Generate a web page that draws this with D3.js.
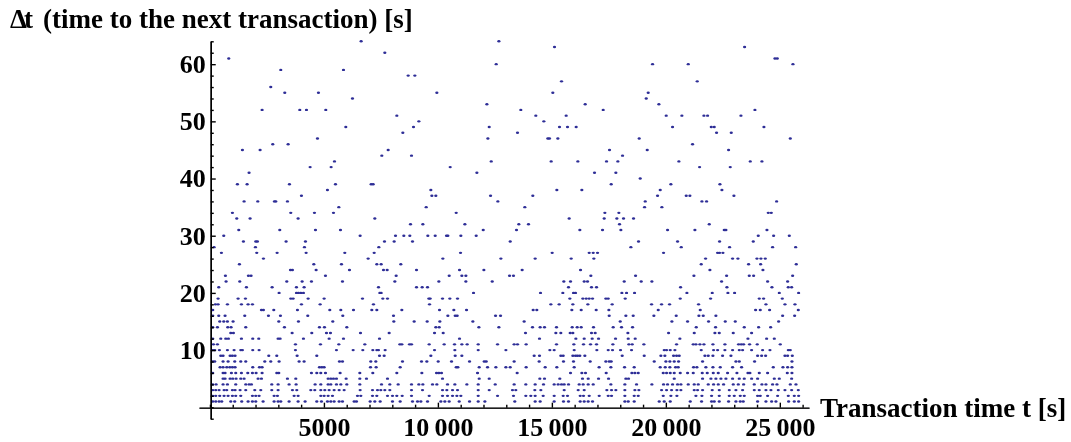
<!DOCTYPE html>
<html><head><meta charset="utf-8">
<script src="https://cdn.jsdelivr.net/npm/d3@7/dist/d3.min.js"></script>
<style>html,body{margin:0;padding:0;background:#fff}svg{display:block;filter:blur(0.35px)}text{font-family:"Liberation Serif",serif;font-weight:bold;fill:#000}</style>
</head><body><div id="c"></div>
<script>
const titleY = "\u0394t";
const titleRest = "(time to the next transaction) [s]";
const titleX = "Transaction time t [s]";
const xMajor = [5000,10000,15000,20000,25000];
const xMinor = [0,1000,2000,3000,4000,6000,7000,8000,9000,11000,12000,13000,14000,16000,17000,18000,19000,21000,22000,23000,24000,26000];
const yMajor = [10,20,30,40,50,60];
const yMinor = [-2,0,2,4,6,8,12,14,16,18,22,24,26,28,32,34,36,38,42,44,46,48,52,54,56,58,62,64];
// transaction times (s) by time-to-next value dt (s)
const timesAt = {};
timesAt[64]=[6598,12640];
timesAt[63]=[15080,23420];
timesAt[62]=[7637];
timesAt[61]=[790,24751,24853];
timesAt[60]=[12523,19382,20947,25541];
timesAt[59]=[3072,5823];
timesAt[58]=[8661,8954];
timesAt[57]=[15388,21342];
timesAt[56]=[2633];
timesAt[55]=[3248,4725,9919,15007,19191];
timesAt[54]=[6218,19104];
timesAt[53]=[12114,16426,19660];
timesAt[52]=[2253,3906,4199,5047,13603,17216,23873];
timesAt[51]=[8164,14261,15592,19981,20669,21635,21796,23259];
timesAt[50]=[9129,14612];
timesAt[49]=[5925,8895,12216,15300,15651,16031,20259,21957,22088,24268];
timesAt[48]=[8427,13457,22190,22834];
timesAt[47]=[4682,12158,14788,14861,15227,18796,25424];
timesAt[46]=[2721,3394,21137];
timesAt[45]=[1390,2165,7783,17494,19148,22717];
timesAt[44]=[7505,8807,18065];
timesAt[43]=[5428,12304,14934,16105,17363,17860,20537,23668,24180];
timesAt[42]=[4360,5281,10504,21445,22790];
timesAt[41]=[1682,11675,16836,17772];
timesAt[40]=[18840];
timesAt[39]=[1170,1595,3453,5472,7037,7125,17568,20186,22337];
timesAt[38]=[5120,9656,15183,16280,19718,22425];
timesAt[37]=[3979,9700,9875,12275,14129,19601,20859,21020,22951];
timesAt[36]=[1463,2063,2794,2853,3365,12596,19060,21547,21752,24824];
timesAt[35]=[5618,9451,13778,19031,19791];
timesAt[34]=[951,3511,4550,5384,10768,17290,17904,24458,24590];
timesAt[33]=[1141,1726,3833,7198,15724,17260,17816,18109,18548];
timesAt[32]=[8763,9305,11148,13515,13939,17933,21869];
timesAt[31]=[1229,3028,4594,5691,11953,13413,16192,17187,17992,20040,21240,22527,22600,24400];
timesAt[30]=[571,6554,8105,8471,8734,9524,9846,10343,10402,10972,11645,24019,24692,25380];
timesAt[29]=[1434,1975,2048,3306,4155,7622,8047,8851,13137,18767,20479,22322,23800];
timesAt[28]=[146,1960,4111,7374,18431,20640,22761,24648,25658];
timesAt[27]=[468,2019,2911,4184,5881,7169,10958,14978,16602,16778,16968,19864,22235,22322,22469];
timesAt[26]=[2312,6905,10183,12728,14232,15812,16807,21708,22893,23127,23961,24136,24327];
timesAt[25]=[1258,4521,5735,7286,7476,8339,21517,23595,24122,25687];
timesAt[24]=[3497,3584,4623,6086,7578,7739,9027,10914,11982,13661,16222,21898,24224];
timesAt[23]=[644,1653,1770,5033,8134,10460,11016,11192,13108,13281,16675,18636,21196,22630,23624,23815,25526];
timesAt[22]=[673,1273,3336,4009,4418,5779,8076,10007,11192,12348,15490,15783,16383,16529,18138,18884,19352,22410,24429,25307];
timesAt[21]=[351,1565,2692,3760,4096,7359,9027,9275,9510,15695,16704,16924,20611,22644,24619,25336,25483];
timesAt[20]=[2999,3760,3848,3950,4067,7418,7476,11528,14466,15446,15914,16002,18036,18241,18592,20889,22000,22688,22981,24941,25790];
timesAt[19]=[322,1200,1522,3511,3614,4272,4974,6657,7549,7754,9568,9627,10168,10490,10826,15753,16324,16470,16602,16748,17333,17436,18182,20596,21927,24063,24253,25073];
timesAt[18]=[205,322,732,1346,1639,1829,3979,4799,7139,9597,14920,15285,15885,16543,17611,19338,19777,20128,21400,24356,25190,25629];
timesAt[17]=[88,2224,2312,2765,3804,5223,5706,6262,7066,7286,8383,10036,10665,11221,14144,14305,15841,16251,16909,17465,19630,21474,23902,24107,24517,25775];
timesAt[16]=[88,351,629,1492,2531,3058,4257,5793,8017,10402,10724,10812,12494,12713,17480,18211,18533,19440,20420,21415,21605,22161,25087,25614];
timesAt[15]=[395,571,732,980,2985,3848,5355,8032,8924,9495,10051,11499,13749,17963,20230,20918,21839,22571,23010,24912];
timesAt[14]=[88,293,746,892,1536,3233,4769,4989,5969,9875,10021,11763,12640,14115,14451,14642,15168,15856,16075,16251,16792,17655,18021,18504,21298,22147,23405,24034,24561];
timesAt[13]=[878,995,3570,4433,5077,5252,6569,7827,9817,10197,13808,15139,15358,15768,15885,16704,16865,18299,20084,21211,22117,22308,22922,23727];
timesAt[12]=[88,439,658,775,1346,1843,2107,2955,3043,4067,5194,5823,7403,10914,14422,16017,16383,16734,17012,17758,18314,18621,20581,23566,24385,24722];
timesAt[11]=[117,293,3716,4813,5618,6759,8295,8383,8719,8807,9583,10241,10695,11016,11250,11733,12582,13310,13457,13837,15168,15929,16353,16660,16924,17641,18343,18489,19001,20435,21167,21284,21459,21635,22030,22556,23156,23273,23376,23639,23975,24985];
timesAt[10]=[88,176,380,732,1024,1317,1390,1843,2121,3716,5515,6247,6671,7110,7286,7359,7651,9817,10709,11733,12948,14876,15066,15944,16938,17436,17626,17977,18460,19894,19996,20157,20362,21517,22059,22235,22556,22893,23186,23332,23727,24210,24532,25336,25424];
timesAt[9]=[439,541,849,951,1068,2546,2897,3789,4652,7403,7608,9656,10724,11016,14188,14422,15358,15461,15885,16002,16090,16192,16412,18050,19016,19747,19923,20303,20435,20552,21679,21825,22030,22454,22820,23990,24166,24341,25190,25307,25512];
timesAt[8]=[88,176,541,761,1053,1317,1536,2370,2633,2999,3877,4096,5647,5779,7022,7242,8412,9246,9480,9978,10563,11353,11997,12085,13310,14407,15475,15914,16646,17333,17480,17568,19455,19967,20142,20333,20523,21576,23039,23186,23858,25497];
timesAt[7]=[410,541,702,834,951,1068,1843,2136,2253,4769,4872,4974,7008,7256,8310,10768,10841,11777,12143,12509,12948,13137,13837,14671,15183,15944,17037,17553,18153,18577,19718,19938,20142,20391,20508,21181,21327,21722,22030,22351,22893,23288,24678,25102,25307,25497];
timesAt[6]=[88,541,629,907,1097,1346,1624,1829,1990,2253,2897,2985,4418,4652,4828,5033,5676,6540,7110,8163,9261,9905,10007,10124,11704,13442,15783,16280,16441,17348,18474,18606,18753,19850,19996,20157,20333,20596,20918,21167,21562,21781,22045,22264,22673,23083,23566,23654,24063,24429,25292,25497];
timesAt[5]=[541,629,849,966,1112,1317,1463,2077,2224,3365,3731,5150,5267,5384,5515,5940,6540,6832,7754,10168,11777,12216,14437,14642,15314,16309,16558,17012,17451,18211,18328,20333,21576,21942,22161,22381,22600,22893,23186,23405,23727,23990,24722,24941,25483];
timesAt[4]=[88,234,541,732,1097,1536,1682,1785,2677,2955,3438,3745,4579,4828,5150,5267,5515,5706,5969,6540,7491,7856,8222,8807,9129,9305,9729,9919,10387,10709,11236,11733,12479,13310,13822,14232,14598,15066,15241,15388,15505,15695,16163,16338,16558,16778,17553,18167,18679,19352,19864,20040,20259,20479,20625,20947,21210,21386,21825,22059,22264,22498,22922,23142,23376,23844,24180,24356,24648,24839,25424,25673];
timesAt[3]=[88,219,366,585,702,951,1068,1287,1536,1931,2195,2677,2955,3584,3775,4389,4565,4828,5004,5194,5413,5633,5852,6554,7096,7315,7461,7637,7856,8807,9290,10168,10358,10607,10826,11733,12216,13237,13383,14217,14481,15505,16119,16383,17377,17582,17772,18167,18606,18782,19777,19996,20216,20450,20625,21210,21357,21576,22000,22308,22747,23039,23332,23844,24063,24356,24575,24897,25190,25483,25775];
timesAt[2]=[88,219,395,585,761,951,1097,1317,1829,1975,2121,2780,2926,3658,3833,4828,4974,5150,5340,6437,6584,7096,7286,7754,7973,8163,8398,8807,9583,10168,10387,10607,10797,10972,11733,12582,13281,13822,14042,14232,14583,15066,15461,15651,16207,16353,16602,17041,17436,17582,18167,18577,18753,19850,20186,20450,21284,21547,21971,22308,22747,22966,23230,23405,23990,24107,24429,24868,25336,25599,25790];
timesAt[1]=[88,219,366,483,878,1053,1360,1639,1829,1975,2297,2780,2955,3072,3438,3833,4140,4652,4857,5120,5267,5413,5633,5779,6291,6393,6993,7198,7432,7973,8310,8851,9071,9217,9510,10095,10270,10460,10899,11353,11733,12026,13339,14232,14451,15066,15475,15695,16207,16383,16558,16748,18167,18314,18577,19674,19894,20157,21035,21532,21971,22088,22308,22717,23039,23230,23361,23990,24356,24605,24795,25351,25599,25790];

const W=1071,H=442;
const x=d3.scaleLinear().domain([-480,26280]).range([199,809]);
const y=d3.scaleLinear().domain([-2,64]).range([418.7,41.3]);
const svg=d3.select("#c").append("svg").attr("width",W).attr("height",H);

const points=Object.keys(timesAt).flatMap(k=>timesAt[k].map(t=>({t,dt:+k})));
svg.append("g").selectAll("ellipse").data(points).join("ellipse")
  .attr("cx",d=>x(d.t)+0.8).attr("cy",d=>y(d.dt))
  .attr("rx",1.6).attr("ry",1.2).attr("fill","#2d2d96");

const yAxisX=x(0)+0.8, xAxisY=y(0)+0.4;
function style(g,w){g.selectAll("path.domain").attr("stroke","#000").attr("stroke-width",w);g.selectAll(".tick line").attr("stroke","#000").attr("stroke-width",1.4);}

// x axis
const gx=svg.append("g").attr("transform",`translate(0,${xAxisY})`);
gx.append("g").call(d3.axisBottom(x).tickValues(xMinor).tickSize(-3).tickSizeOuter(0).tickFormat("")).call(g=>style(g,1));
gx.append("g").call(d3.axisBottom(x).tickValues(xMajor).tickSize(-5).tickSizeOuter(0)
   .tickFormat(d=>d<10000?String(d):String(d).replace(/(\d{3})$/,"\u2009$1")))
  .call(g=>style(g,1))
  .call(g=>g.selectAll("text").attr("y",10).attr("dy","0.71em").style("font-size","26px"));

// y axis
const gy=svg.append("g").attr("transform",`translate(${yAxisX},0)`);
gy.append("g").call(d3.axisRight(y).tickValues(yMinor).tickSize(3).tickSizeOuter(0).tickFormat("")).call(g=>style(g,1.4));
gy.append("g").call(d3.axisRight(y).tickValues(yMajor).tickSize(5).tickSizeOuter(0).tickFormat("")).call(g=>style(g,1.4));
gy.append("g").call(d3.axisLeft(y).tickValues(yMajor).tickSize(0).tickPadding(5)).call(g=>g.select("path.domain").remove())
  .call(g=>g.selectAll("text").style("font-size","26px"));

const tt=svg.append("text").attr("x",10).attr("y",28).style("font-size","27px");
tt.append("tspan").style("letter-spacing","-3px").text(titleY);
tt.append("tspan").attr("x",43).text(titleRest);
svg.append("text").attr("x",820).attr("y",416.5).style("font-size","27px").text(titleX);
</script></body></html>
